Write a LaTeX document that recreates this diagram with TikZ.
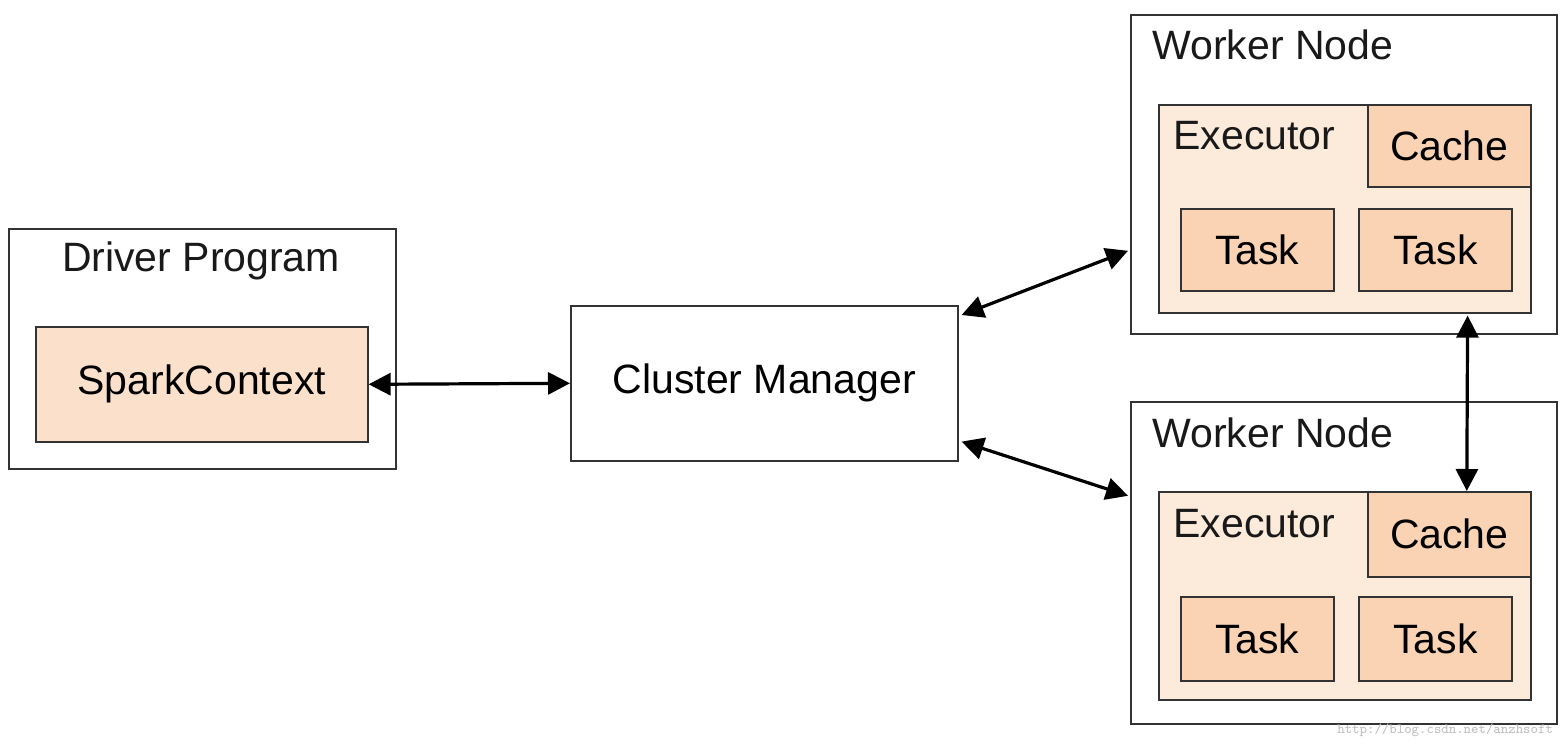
\documentclass[tikz,border=0pt]{standalone}
\usepackage{fontspec}
\setmainfont{Liberation Sans}
\usetikzlibrary{arrows.meta}
\definecolor{peach}{HTML}{F9D3B4}
\definecolor{lightpeach}{HTML}{FCEADB}
\definecolor{sc}{HTML}{FBE1CC}
\definecolor{edge}{HTML}{333333}
\tikzset{
  box/.style={draw=edge,line width=0.8pt,anchor=north west,inner sep=0pt,fill=white},
  exec/.style={box,fill=lightpeach},
  pbox/.style={box,fill=peach,font=\fontsize{20.5}{22}\selectfont},
  lbl/.style={font=\fontsize{20.5}{22}\selectfont,text=black!90,inner sep=0pt},
  conn/.style={line width=1.6pt,{Triangle[length=11pt,width=11pt]}-{Triangle[length=11pt,width=11pt]}}
}
\begin{document}
\begin{tikzpicture}[x=0.5pt,y=-0.5pt]
\useasboundingbox (0,0) rectangle (1564,748);
% driver
\node[box,minimum width=193.5pt,minimum height=120pt] (drv) at (8,228) {};
\node[lbl] (drvt) at (201,261) {Driver Program};
\node[box,fill=sc,font=\fontsize{20.5}{22}\selectfont,minimum width=166pt,minimum height=57.5pt] (sc) at (35,326) {SparkContext};
% cluster manager
\node[box,font=\fontsize{20.5}{22}\selectfont,minimum width=193.5pt,minimum height=77.5pt] (cm) at (570,305) {Cluster Manager};
% worker 1
\node[box,minimum width=213pt,minimum height=159.5pt] (w1) at (1130,14) {};
\node[lbl,anchor=west] (w1t) at (1152,45) {Worker Node};
\node[exec,minimum width=186pt,minimum height=104pt] (e1) at (1158,104) {};
\node[lbl,anchor=west] (e1t) at (1173,136) {Executor};
\node[pbox,minimum width=81.5pt,minimum height=41pt] (c1) at (1367,104) {Cache};
\node[pbox,minimum width=76.5pt,minimum height=41pt] (t1a) at (1180,208) {Task};
\node[pbox,minimum width=76.5pt,minimum height=41pt] (t1b) at (1358,208) {Task};
% worker 2
\node[box,minimum width=213pt,minimum height=161pt] (w2) at (1130,401) {};
\node[lbl,anchor=west] (w2t) at (1152,433) {Worker Node};
\node[exec,minimum width=186pt,minimum height=104pt] (e2) at (1158,491) {};
\node[lbl,anchor=west] (e2t) at (1173,524) {Executor};
\node[pbox,minimum width=81.5pt,minimum height=42.5pt] (c2) at (1367,491) {Cache};
\node[pbox,minimum width=76.5pt,minimum height=42pt] (t2a) at (1180,596) {Task};
\node[pbox,minimum width=76.5pt,minimum height=42pt] (t2b) at (1358,596) {Task};
% connectors
\draw[conn] (sc.east) -- (cm.west);
\draw[conn] ([shift={(3,10)}]cm.north east) -- ([shift={(-2,76.5)}]w1.west);
\draw[conn] ([shift={(3,-20)}]cm.south east) -- ([shift={(-2,-67)}]w2.west);
\draw[conn] ([shift={(-64,2)}]e1.south east) -- ([shift={(17.5,0)}]c2.north);
% watermark
\node[font=\fontsize{7}{8}\selectfont\ttfamily,text=black!25,anchor=east] (wm) at (1560,730) {http://blog.csdn.net/anzhsoft};
\end{tikzpicture}
\end{document}
